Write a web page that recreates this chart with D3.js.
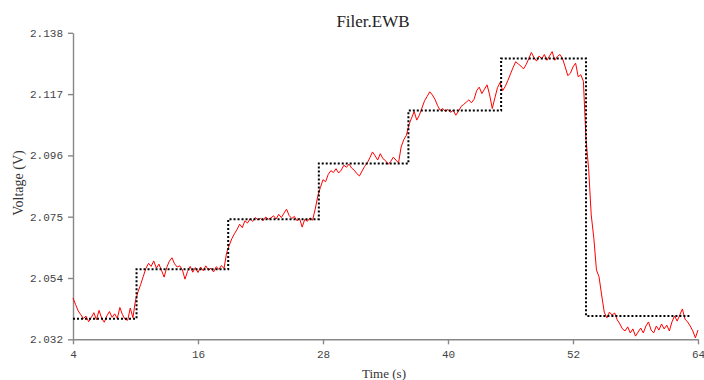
<!DOCTYPE html>
<html>
<head>
<meta charset="utf-8">
<script src="https://cdn.jsdelivr.net/npm/d3@7"></script>
<style>
  body { margin: 0; background: #fff; }
  .axis path, .axis line { stroke: #888; stroke-width: 1.4; }
  .axis text { font-family: "Liberation Mono", monospace; font-size: 11px; fill: #444; }
</style>
</head>
<body>
<div id="chart"></div>
<script>
// ====================== Filer.EWB voltage trace ===============

const startTime = 4;
const sampleStep = 0.25;

// measured voltage, one sample every 0.25 s from t = 4 s
const voltage = [
  2.0463, 2.0440, 2.0418, 2.0405, 2.0392, 2.0400, 2.0381, 2.0395, 2.0412, 2.0388,
  2.0420, 2.0393, 2.0379, 2.0401, 2.0416, 2.0396, 2.0408, 2.0392, 2.0430, 2.0405,
  2.0389, 2.0386, 2.0428, 2.0395, 2.0455, 2.0485, 2.0510, 2.0538, 2.0565, 2.0583,
  2.0572, 2.0591, 2.0566, 2.0580, 2.0558, 2.0535, 2.0569, 2.0590, 2.0602, 2.0581,
  2.0570, 2.0574, 2.0560, 2.0528, 2.0555, 2.0572, 2.0552, 2.0568, 2.0551, 2.0570,
  2.0557, 2.0574, 2.0559, 2.0566, 2.0553, 2.0571, 2.0562, 2.0575, 2.0565, 2.0620,
  2.0645, 2.0668, 2.0685, 2.0700, 2.0718, 2.0706, 2.0730, 2.0722, 2.0737, 2.0728,
  2.0741, 2.0733, 2.0738, 2.0730, 2.0743, 2.0735, 2.0740, 2.0747, 2.0736, 2.0752,
  2.0741, 2.0756, 2.0770, 2.0748, 2.0738, 2.0745, 2.0730, 2.0738, 2.0708, 2.0735,
  2.0728, 2.0740, 2.0732, 2.0770, 2.0815, 2.0845, 2.0872, 2.0865, 2.0890, 2.0903,
  2.0897, 2.0910, 2.0895, 2.0905, 2.0922, 2.0915, 2.0926, 2.0912, 2.0905, 2.0893,
  2.0885, 2.0902, 2.0918, 2.0930, 2.0948, 2.0968, 2.0955, 2.0940, 2.0962, 2.0945,
  2.0938, 2.0925, 2.0935, 2.0950, 2.0940, 2.0930, 2.0985, 2.1010, 2.1025, 2.1062,
  2.1085, 2.1108, 2.1078, 2.1095, 2.1120, 2.1145, 2.1160, 2.1176, 2.1165, 2.1150,
  2.1128, 2.1112, 2.1118, 2.1108, 2.1115, 2.1105, 2.1112, 2.1095, 2.1108, 2.1125,
  2.1132, 2.1140, 2.1148, 2.1138, 2.1150, 2.1180, 2.1192, 2.1170, 2.1185, 2.1200,
  2.1165, 2.1118, 2.1155, 2.1190, 2.1208, 2.1180, 2.1195, 2.1215, 2.1238, 2.1260,
  2.1280, 2.1272, 2.1265, 2.1255, 2.1270, 2.1290, 2.1312, 2.1295, 2.1282, 2.1300,
  2.1290, 2.1305, 2.1285, 2.1300, 2.1315, 2.1285, 2.1298, 2.1305, 2.1290, 2.1262,
  2.1232, 2.1240, 2.1262, 2.1275, 2.1228, 2.1235, 2.1212, 2.1010, 2.0910, 2.0750,
  2.0670, 2.0560, 2.0536, 2.0473, 2.0414, 2.0394, 2.0414, 2.0404, 2.0411, 2.0387,
  2.0373, 2.0356, 2.0349, 2.0363, 2.0342, 2.0356, 2.0331, 2.0345, 2.0359, 2.0342,
  2.0366, 2.0380, 2.0352, 2.0342, 2.0366, 2.0352, 2.0373, 2.0356, 2.0369, 2.0349,
  2.0380, 2.0401, 2.0383, 2.0404, 2.0425, 2.0390, 2.0380, 2.0366, 2.0349, 2.0325,
  2.0352
];

// reference (dotted) step profile
const stepTimes = [4, 10.1, 18.9, 27.6, 36.2, 45.1, 53.25, 63.3];
const stepLevels = [2.0391, 2.0562, 2.0735, 2.0928, 2.1111, 2.1291, 2.0401];

const xTicks = [4, 16, 28, 40, 52, 64];
const yTicks = [2.032, 2.0532, 2.0744, 2.0956, 2.1168, 2.138];
const yTickLabels = ['2.032', '2.054', '2.075', '2.096', '2.117', '2.138'];

const width = 704;
const height = 380;

const svg = d3.select('#chart')
    .append('svg')
    .attr('width', width)
    .attr('height', height);

const x = d3.scaleLinear()
    .domain([4, 64])
    .range([73, 698]);

const y = d3.scaleLinear()
    .domain([2.032, 2.138])
    .range([339.3, 32.8]);

// axes
svg.append('g')
    .attr('class', 'axis')
    .attr('transform', `translate(0,${y(2.032)})`)
    .call(d3.axisBottom(x)
        .tickValues(xTicks)
        .tickFormat(d3.format('d'))
        .tickSize(5)
        .tickSizeOuter(0)
        .tickPadding(6));

svg.append('g')
    .attr('class', 'axis')
    .attr('transform', `translate(${x(4)},0)`)
    .call(d3.axisLeft(y)
        .tickValues(yTicks)
        .tickFormat((d, i) => yTickLabels[i])
        .tickSize(5)
        .tickSizeOuter(0)
        .tickPadding(5));

// measured trace
const trace = voltage.map((v, i) => [startTime + i * sampleStep, v]);

svg.append('path')
    .datum(trace)
    .attr('fill', 'none')
    .attr('stroke', '#ff0000')
    .attr('stroke-width', 1)
    .attr('d', d3.line()
        .x(d => x(d[0]))
        .y(d => y(d[1])));

// dotted step profile
const steps = stepLevels.map((v, i) => [stepTimes[i], v]);
steps.push([stepTimes[stepTimes.length - 1], stepLevels[stepLevels.length - 1]]);

svg.append('path')
    .datum(steps)
    .attr('fill', 'none')
    .attr('stroke', '#000')
    .attr('stroke-width', 2)
    .attr('stroke-dasharray', '2,2')
    .attr('d', d3.line()
        .curve(d3.curveStepAfter)
        .x(d => x(d[0]))
        .y(d => y(d[1])));

// titles
svg.append('text')
    .attr('x', 373)
    .attr('y', 27)
    .attr('text-anchor', 'middle')
    .style('font-family', '"Liberation Serif", serif')
    .style('font-size', '17px')
    .style('fill', '#222')
    .text('Filer.EWB');

svg.append('text')
    .attr('x', 384)
    .attr('y', 378)
    .attr('text-anchor', 'middle')
    .style('font-family', '"Liberation Serif", serif')
    .style('font-size', '13px')
    .style('fill', '#333')
    .text('Time (s)');

svg.append('text')
    .attr('transform', 'rotate(-90)')
    .attr('x', -183)
    .attr('y', 23)
    .attr('text-anchor', 'middle')
    .style('font-family', '"Liberation Serif", serif')
    .style('font-size', '14px')
    .style('fill', '#333')
    .text('Voltage (V)');
</script>
</body>
</html>
